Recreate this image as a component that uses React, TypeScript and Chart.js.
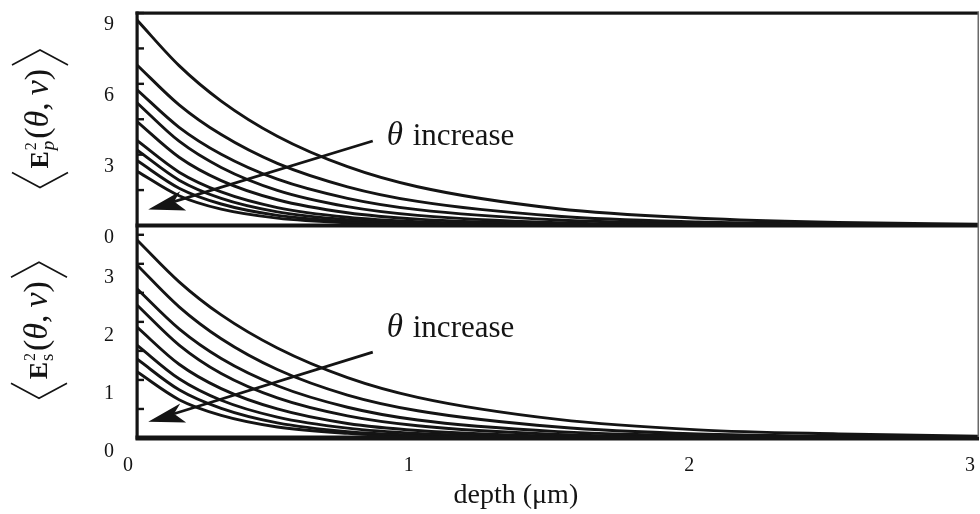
import React, { useEffect, useRef } from 'react';
import { Chart, registerables } from 'chart.js';

Chart.register(...registerables);

// ---------- data ----------
const depth = [0, 0.15, 0.3, 0.5, 0.75, 1, 1.5, 2, 2.5, 3];

// <E_p^2(θ,ν)> curves, θ increasing downward
const pSeries = [
  [8.7, 6.77, 5.27, 3.78, 2.49, 1.64, 0.71, 0.31, 0.13, 0.06],
  [6.8, 5.11, 3.85, 2.63, 1.64, 1.02, 0.39, 0.15, 0.06, 0.02],
  [5.75, 4.16, 3.02, 1.96, 1.15, 0.67, 0.23, 0.08, 0.03, 0.01],
  [5.2, 3.57, 2.46, 1.49, 0.8, 0.43, 0.12, 0.03, 0.01, 0],
  [4.4, 2.89, 1.9, 1.09, 0.54, 0.27, 0.07, 0.02, 0, 0],
  [3.6, 2.26, 1.42, 0.76, 0.35, 0.16, 0.03, 0.01, 0, 0],
  [3.2, 1.92, 1.15, 0.58, 0.25, 0.11, 0.02, 0, 0, 0],
  [2.75, 1.58, 0.91, 0.43, 0.17, 0.07, 0.01, 0, 0, 0],
  [2.3, 1.26, 0.69, 0.31, 0.11, 0.04, 0.01, 0, 0, 0],
];

// <E_s^2(θ,ν)> curves
const sSeries = [
  [3.41, 2.69, 2.12, 1.55, 1.04, 0.7, 0.32, 0.14, 0.07, 0.03],
  [2.98, 2.26, 1.71, 1.18, 0.74, 0.47, 0.19, 0.07, 0.03, 0.01],
  [2.57, 1.88, 1.37, 0.9, 0.53, 0.31, 0.11, 0.04, 0.01, 0],
  [2.29, 1.6, 1.11, 0.69, 0.38, 0.21, 0.06, 0.02, 0, 0],
  [1.91, 1.27, 0.85, 0.5, 0.25, 0.13, 0.03, 0.01, 0, 0],
  [1.6, 1.02, 0.65, 0.36, 0.17, 0.08, 0.02, 0, 0, 0],
  [1.36, 0.83, 0.51, 0.26, 0.11, 0.05, 0.01, 0, 0, 0],
  [1.14, 0.66, 0.39, 0.19, 0.08, 0.03, 0.01, 0, 0, 0],
];

const xTickValues = [0, 1, 2, 3];
const xTickLabels = ['0', '1', '2', '3'];
const pTickValues = [0, 1.5, 3, 4.5, 6, 7.5, 9];
const pTickLabels = ['0', '', '3', '', '6', '', '9'];
const sTickValues = [0, 0.5, 1, 1.5, 2, 2.5, 3, 3.5];
const sTickLabels = ['0', '', '1', '', '2', '', '3', ''];

const xTitle = 'depth (\u03BCm)';
const annotationTheta = '\u03B8';
const annotationWord = ' increase';

// annotation anchors in data units
const pArrow = { from: [0.84, 3.58], to: [0.04, 0.68], text: [0.89, 3.41] };
const sArrow = { from: [0.84, 1.48], to: [0.04, 0.28], text: [0.89, 1.74] };

const FONT = "'Liberation Serif', 'Times New Roman', serif";
const INK = '#141414';

function drawArrow(ctx: CanvasRenderingContext2D, sx: number, sy: number, tx: number, ty: number) {
  const dx = tx - sx, dy = ty - sy;
  const len = Math.hypot(dx, dy);
  const ux = dx / len, uy = dy / len;
  const nx = -uy, ny = ux;
  const bx = tx - ux * 36, by = ty - uy * 36;
  const notchX = tx - ux * 27, notchY = ty - uy * 27;
  ctx.strokeStyle = INK;
  ctx.lineWidth = 2.8;
  ctx.beginPath();
  ctx.moveTo(sx, sy);
  ctx.lineTo(notchX, notchY);
  ctx.stroke();
  ctx.fillStyle = INK;
  ctx.beginPath();
  ctx.moveTo(tx, ty);
  ctx.lineTo(bx + nx * 8, by + ny * 8);
  ctx.lineTo(notchX, notchY);
  ctx.lineTo(bx - nx * 12, by - ny * 12);
  ctx.closePath();
  ctx.fill();
}

function drawYTitle(ctx: CanvasRenderingContext2D, cx: number, cy: number, sub: string, subItalic: boolean) {
  ctx.save();
  ctx.translate(cx, cy);
  ctx.rotate(-Math.PI / 2);
  ctx.fillStyle = INK;
  ctx.textAlign = 'left';
  ctx.textBaseline = 'alphabetic';
  const base = 8;
  const big = `34px ${FONT}`;
  const bigI = `italic 34px ${FONT}`;
  const eFont = `bold 26px ${FONT}`;
  const supFont = `16px ${FONT}`;
  const subFont = `${subItalic ? 'italic ' : ''}19px ${FONT}`;
  const parts: { t: string; f: string }[] = [
    { t: '(', f: big },
    { t: '\u03B8', f: bigI },
    { t: ',', f: big },
    { t: '\u2009', f: big },
    { t: '\u03BD', f: bigI },
    { t: ')', f: big },
  ];
  ctx.font = eFont;
  const wE = ctx.measureText('E').width;
  ctx.font = supFont;
  const wSup = ctx.measureText('2').width;
  ctx.font = subFont;
  const wSub = ctx.measureText(sub).width;
  const wPair = Math.max(wSup, wSub) + 2;
  let wRest = 0;
  for (const p of parts) {
    ctx.font = p.f;
    wRest += ctx.measureText(p.t).width;
  }
  const brW = 15, gap = 4;
  const total = wE + wPair + wRest + 2 * (brW + gap);
  let pos = -total / 2;
  ctx.strokeStyle = INK;
  ctx.lineWidth = 1.6;
  ctx.beginPath();
  ctx.moveTo(pos + brW, -28);
  ctx.lineTo(pos, 0);
  ctx.lineTo(pos + brW, 28);
  ctx.stroke();
  pos += brW + gap;
  ctx.font = eFont;
  ctx.fillText('E', pos, base);
  pos += wE + 1;
  ctx.font = supFont;
  ctx.fillText('2', pos, base - 12);
  ctx.font = subFont;
  ctx.fillText(sub, pos, base + 6);
  pos += wPair;
  for (const p of parts) {
    ctx.font = p.f;
    ctx.fillText(p.t, pos, base);
    pos += ctx.measureText(p.t).width;
  }
  pos += gap;
  ctx.beginPath();
  ctx.moveTo(pos, -28);
  ctx.lineTo(pos + brW, 0);
  ctx.lineTo(pos, 28);
  ctx.stroke();
  ctx.restore();
}

const decor = {
  id: 'decor',
  afterDatasetsDraw(chart: any) {
    const { ctx, chartArea: ca, scales } = chart;
    const x = scales.x, yT = scales.yTop, yB = scales.yBot;
    const L = ca.left, R = ca.right;
    ctx.save();
    // frame
    ctx.fillStyle = INK;
    ctx.fillRect(L - 1.5, yT.top - 1.5, R - L + 1.5, 3.2);
    ctx.fillRect(L - 1.5, yT.top - 1.5, 3.2, yB.bottom - yT.top + 3);
    ctx.fillRect(L - 1.5, yT.bottom - 2, R - L + 1.5, 4);
    ctx.fillRect(L - 1.5, yB.bottom - 2.5, R - L + 1.5, 5);
    ctx.fillStyle = '#6a6a6a';
    ctx.fillRect(R - 1.5, yT.top - 1, 1.5, yB.bottom - yT.top);
    // inward tick marks
    ctx.fillStyle = INK;
    const tickMarks = (scale: any, values: number[]) => {
      for (const v of values) {
        const py = scale.getPixelForValue(v);
        ctx.fillRect(L, py - 1.2, 7, 2.4);
      }
    };
    tickMarks(yT, pTickValues);
    tickMarks(yB, sTickValues);

    // arrows and labels
    const ann = (a: any, ys: any) => {
      drawArrow(ctx, x.getPixelForValue(a.from[0]), ys.getPixelForValue(a.from[1]),
        x.getPixelForValue(a.to[0]), ys.getPixelForValue(a.to[1]));
      const tx = x.getPixelForValue(a.text[0]);
      const ty = ys.getPixelForValue(a.text[1]);
      ctx.fillStyle = INK;
      ctx.textAlign = 'left';
      ctx.textBaseline = 'alphabetic';
      ctx.font = `italic 33px ${FONT}`;
      ctx.fillText(annotationTheta, tx, ty);
      const w = ctx.measureText(annotationTheta).width;
      ctx.font = `31px ${FONT}`;
      ctx.fillText(annotationWord, tx + w + 2, ty);
    };
    ann(pArrow, yT);
    ann(sArrow, yB);

    // axis titles
    ctx.fillStyle = INK;
    ctx.font = `28px ${FONT}`;
    ctx.textAlign = 'center';
    ctx.textBaseline = 'middle';
    ctx.fillText(xTitle, x.getPixelForValue(1.35), yB.bottom + 58);

    drawYTitle(ctx, 40, (yT.top + yT.bottom) / 2 + 0, 'p', true);
    drawYTitle(ctx, 39, (yB.top + yB.bottom) / 2 - 1, 's', false);
    ctx.restore();
  },
};

const lineStyle = {
  borderColor: INK,
  borderWidth: 2.9,
  pointRadius: 0,
  fill: false,
  cubicInterpolationMode: 'monotone' as const,
};

const zeroPad = (s: any) => {
  s.paddingTop = 0;
  s.paddingBottom = 0;
  s.paddingLeft = 0;
  s.paddingRight = 0;
};

export default function App() {
  const ref = useRef<HTMLCanvasElement>(null);
  useEffect(() => {
    const canvas = ref.current;
    if (!canvas) return;
    const datasets: any[] = [
      ...pSeries.map((s, i) => ({
        label: `p${i + 1}`,
        data: depth.map((d, j) => ({ x: d, y: s[j] })),
        yAxisID: 'yTop',
        ...lineStyle,
      })),
      ...sSeries.map((s, i) => ({
        label: `s${i + 1}`,
        data: depth.map((d, j) => ({ x: d, y: s[j] })),
        yAxisID: 'yBot',
        ...lineStyle,
      })),
    ];
    const tickFont = { family: FONT, size: 20 };
    const chart = new Chart(canvas, {
      type: 'line',
      data: { datasets },
      options: {
        responsive: false,
        animation: false,
        events: [],
        layout: { padding: { left: 104, right: 1, top: 13, bottom: 37 } },
        plugins: { legend: { display: false }, tooltip: { enabled: false } },
        scales: {
          x: {
            type: 'linear',
            position: 'bottom',
            min: 0,
            max: 3,
            grid: { display: false, drawTicks: false },
            border: { display: false },
            afterBuildTicks: (s: any) => {
              s.ticks = xTickValues.map((v) => ({ value: v }));
            },
            afterFit: (s: any) => {
              zeroPad(s);
              s.height = 39;
            },
            ticks: {
              font: tickFont,
              color: INK,
              padding: 16,
              align: 'end',
              labelOffset: -4,
              maxRotation: 0,
              autoSkip: false,
              callback: (_v: any, i: number) => xTickLabels[i],
            },
          },
          yTop: {
            type: 'linear',
            position: 'left',
            stack: 'panels',
            stackWeight: 1,
            weight: 1,
            min: 0,
            max: 9,
            grid: { display: false, drawTicks: false },
            border: { display: false },
            afterBuildTicks: (s: any) => {
              s.ticks = pTickValues.map((v) => ({ value: v }));
            },
            afterFit: (s: any) => {
              zeroPad(s);
              s.width = 33;
            },
            ticks: {
              font: tickFont,
              color: INK,
              padding: 23,
              labelOffset: 12,
              autoSkip: false,
              callback: (_v: any, i: number) => pTickLabels[i],
            },
          },
          yBot: {
            type: 'linear',
            position: 'left',
            stack: 'panels',
            stackWeight: 1,
            weight: 0,
            min: 0,
            max: 3.66,
            grid: { display: false, drawTicks: false },
            border: { display: false },
            afterBuildTicks: (s: any) => {
              s.ticks = sTickValues.map((v) => ({ value: v }));
            },
            afterFit: (s: any) => {
              zeroPad(s);
              s.width = 33;
            },
            ticks: {
              font: tickFont,
              color: INK,
              padding: 23,
              labelOffset: 14,
              autoSkip: false,
              callback: (_v: any, i: number) => sTickLabels[i],
            },
          },
        },
      } as any,
      plugins: [decor],
    });
    return () => chart.destroy();
  }, []);
  return (
    <div style={{ position: 'absolute', left: 0, top: 0, width: 980, height: 514, background: '#fff' }}>
      <canvas ref={ref} width={980} height={514} style={{ display: 'block', width: 980, height: 514 }} />
    </div>
  );
}
